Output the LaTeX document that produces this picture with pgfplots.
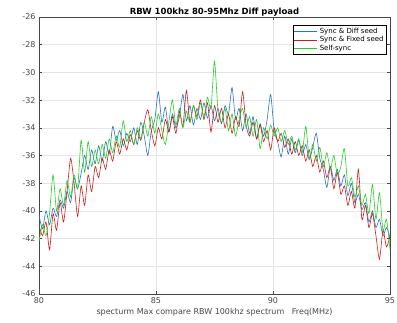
\documentclass[border=0pt]{standalone}
\usepackage{pgfplots}
\usepackage{pgfplotstable}
\pgfplotsset{compat=1.18}
\usepackage{fontspec}
\setmainfont{DejaVu Sans}
\definecolor{mblue}{RGB}{45,115,185}
\definecolor{mred}{RGB}{200,30,30}
\definecolor{mgreen}{RGB}{40,205,40}
\definecolor{tickgray}{RGB}{70,70,70}
\pgfplotstableread{
b r g
-40.3 -41.0 -42.2
-41.3 -41.8 -41.0
-40.0 -40.8 -41.8
-41.0 -42.8 -40.2
-39.8 -40.2 -37.4
-40.4 -41.4 -40.0
-39.2 -39.4 -38.4
-39.8 -40.8 -39.6
-38.6 -38.6 -37.8
-39.4 -36.2 -39.0
-37.6 -38.0 -37.4
-38.4 -40.4 -38.4
-37.3 -38.2 -34.9
-36.0 -39.6 -37.2
-37.0 -37.4 -35.0
-35.6 -38.6 -36.8
-36.6 -36.8 -35.6
-35.3 -37.6 -36.6
-36.4 -36.2 -35.2
-35.0 -37.0 -36.2
-35.9 -35.6 -34.8
-33.9 -36.4 -35.8
-34.9 -35.0 -34.6
-34.2 -35.9 -35.4
-35.3 -34.8 -33.5
-34.4 -35.6 -35.0
-35.0 -34.5 -34.2
-34.0 -35.2 -35.2
-35.2 -34.2 -34.0
-33.6 -34.9 -34.8
-34.6 -33.6 -33.6
-36.0 -32.7 -34.6
-34.2 -34.2 -33.2
-33.4 -35.3 -34.4
-31.4 -34.0 -33.0
-33.6 -34.8 -34.2
-32.5 -33.4 -35.2
-34.3 -34.3 -33.6
-33.0 -33.2 -32.0
-34.0 -34.4 -33.8
-33.2 -32.8 -32.6
-31.6 -33.9 -34.0
-33.5 -31.3 -32.8
-32.4 -33.6 -33.6
-33.8 -32.4 -32.4
-32.6 -33.2 -33.4
-33.4 -32.0 -32.2
-32.2 -33.4 -33.2
-33.3 -32.2 -31.8
-32.4 -34.3 -32.6
-33.5 -32.4 -29.2
-32.6 -33.6 -32.8
-33.7 -32.6 -33.6
-32.4 -34.0 -32.6
-33.0 -33.0 -34.2
-31.1 -34.4 -33.0
-33.4 -33.2 -34.6
-32.6 -33.9 -33.4
-34.2 -31.4 -32.6
-33.0 -33.8 -34.0
-34.4 -34.6 -33.2
-33.2 -33.6 -34.6
-34.8 -34.8 -33.4
-33.7 -33.8 -35.5
-34.6 -35.0 -34.0
-33.4 -34.2 -34.8
-31.6 -35.6 -33.8
-34.2 -34.0 -34.6
-35.0 -35.0 -34.0
-36.1 -34.4 -35.0
-34.6 -35.4 -34.2
-35.9 -34.8 -35.2
-34.8 -35.9 -34.6
-35.8 -35.0 -35.6
-34.9 -36.0 -34.8
-36.0 -35.3 -35.8
-35.2 -36.4 -33.9
-36.3 -35.6 -36.2
-35.4 -36.8 -35.2
-34.4 -36.0 -36.4
-36.2 -37.2 -35.4
-37.0 -36.4 -36.8
-38.3 -37.6 -35.8
-36.8 -36.8 -37.0
-37.8 -38.4 -36.0
-37.0 -37.2 -37.4
-38.2 -38.8 -36.8
-37.4 -38.2 -35.5
-38.9 -39.6 -38.2
-38.0 -38.6 -37.6
-39.4 -39.8 -39.0
-38.8 -37.0 -38.2
-39.9 -40.6 -39.6
-39.4 -39.6 -38.8
-40.8 -41.2 -40.2
-40.0 -40.2 -38.1
-41.2 -41.8 -40.6
-40.6 -43.5 -38.7
-41.8 -41.4 -41.4
-41.2 -42.6 -40.6
-41.9 -41.8 -42.8
}\spec
\begin{document}
\begin{tikzpicture}
\begin{axis}[
  at={(0pt,0pt)}, anchor=south west,
  scale only axis, width=351pt, height=277pt,
  xmin=80, xmax=95, ymin=-46, ymax=-26,
  xtick={80,85,90,95}, ytick={-46,-44,...,-26},
  grid=major, major grid style={gray!20, line width=0.5pt},
  axis line style={tickgray, line width=0.6pt},
  tick style={tickgray, line width=0.5pt},
  tick align=inside, major tick length=3pt,
  ticklabel style={font=\fontsize{8}{9}\selectfont, text=tickgray},
  /pgf/number format/assume math mode=true,
  yticklabel style={/pgf/number format/fixed},
  title={\textbf{RBW 100khz 80-95Mhz Diff payload}},
  title style={font=\fontsize{8.5}{9}\selectfont, yshift=-9pt},
  xlabel={specturm Max compare RBW 100khz spectrum\ \ \ Freq(MHz)},
  xlabel style={font=\fontsize{8}{9}\selectfont, text=tickgray, yshift=2pt},
  legend style={at={(rel axis cs:0.991,0.971)}, anchor=north east,
    font=\fontsize{7}{8}\selectfont, draw=black, line width=0.4pt,
    inner sep=1pt, row sep=-2.5pt, cells={anchor=west}},
  legend cell align=left,
  legend image code/.code={\draw[#1, line width=0.8pt] (0pt,0pt) -- (23pt,0pt);},
  every axis plot/.append style={line width=0.6pt},
]
\addplot[mblue, no marks, smooth, tension=0.4] table[x expr=80+0.15*\coordindex, y=b] {\spec};
\addlegendentry{Sync \& Diff seed}
\addplot[mred, no marks, smooth, tension=0.4] table[x expr=80+0.15*\coordindex, y=r] {\spec};
\addlegendentry{Sync \& Fixed seed}
\addplot[mgreen, no marks, smooth, tension=0.4] table[x expr=80+0.15*\coordindex, y=g] {\spec};
\addlegendentry{Self-sync}
\end{axis}
\pgfresetboundingbox
\useasboundingbox (-39pt,-28pt) rectangle (358pt,294pt);
\end{tikzpicture}
\end{document}
